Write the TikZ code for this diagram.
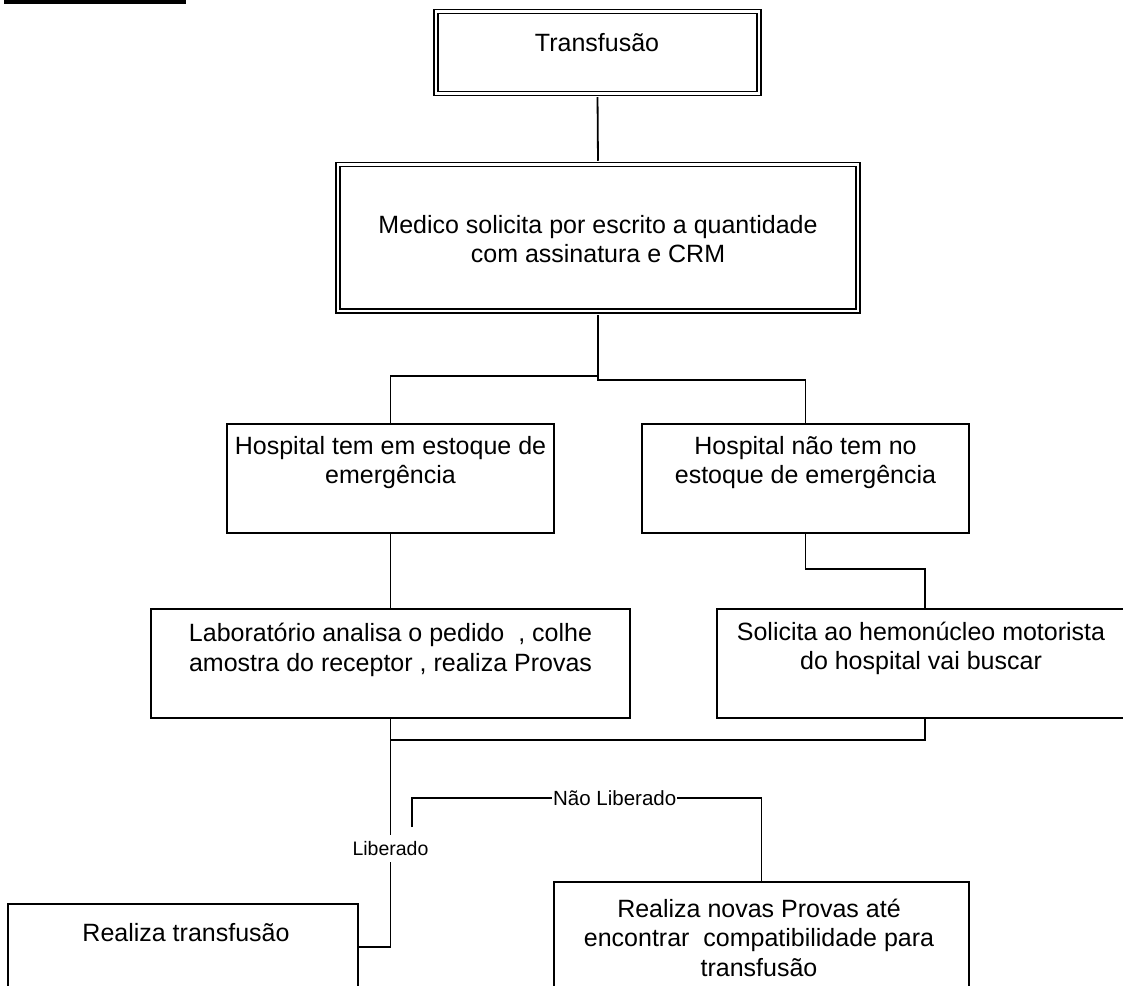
\documentclass[tikz,border=0pt]{standalone}
\usepackage{fontspec}
\setmainfont{Liberation Sans}
\begin{document}
\begin{tikzpicture}[x=1pt,y=-1pt,
  box/.style={draw,line width=1.8pt,fill=white,inner sep=0pt},
  dbox/.style={draw,line width=1.5pt,double,double distance=2.8pt,inner sep=0pt},
  txt/.style={align=center,font=\fontsize{25}{29.5}\selectfont,inner sep=0pt},
  conn/.style={line width=1.8pt},
  lbl/.style={fill=white,inner xsep=1pt,inner ysep=3pt,font=\fontsize{20.5}{24}\selectfont}]
\useasboundingbox (0,0) rectangle (1123,985);
\fill (4,0) rectangle (186,4);
% boxes
\node[dbox,minimum width=323pt,minimum height=82pt] (t1) at (597.5,52.4) {};
\node[dbox,minimum width=520pt,minimum height=146.5pt] (t2) at (598,237.75) {};
\node[box,minimum width=327pt,minimum height=109pt] (b1) at (390.5,478.5) {};
\node[box,minimum width=327pt,minimum height=109pt] (b2) at (805.5,478.5) {};
\node[box,minimum width=479pt,minimum height=109pt] (b3) at (390.5,663.5) {};
\node[box,minimum width=416pt,minimum height=109pt] (b4) at (925,663.5) {};
\node[box,minimum width=350pt,minimum height=86pt] (b5) at (183,947) {};
\node[box,minimum width=415pt,minimum height=109pt] (b6) at (761.5,936.5) {};
% texts
\node[txt] (t1x) at (597,43) {Transfusão};
\node[txt] (t2x) at (598,239) {Medico solicita por escrito a quantidade\\com assinatura e CRM};
\node[txt] (b1x) at (390.5,462.5) {Hospital tem em estoque de\\emergência};
\node[txt] (b2x) at (805.5,462.5) {Hospital não tem no\\estoque de emergência};
\node[txt] (b3x) at (390.5,650) {Laboratório analisa o pedido \ , colhe\\amostra do receptor , realiza Provas};
\node[txt] (b4x) at (921,648.5) {Solicita ao hemonúcleo motorista\\do hospital vai buscar};
\node[txt] (b5x) at (186,933) {Realiza transfusão};
\node[txt] (b6x) at (759,937.5) {Realiza novas Provas até\\encontrar \ compatibilidade para\\transfusão};
% connectors
\coordinate (s1) at (598,376);
\coordinate (s2) at (598,380);
\coordinate (s3) at (805.5,569);
\coordinate (j1) at (390.5,740);
\coordinate (nl) at (412,827);
\coordinate (nlc) at (412,798);
\draw[conn,shorten <=3pt,shorten >=3pt] (t1.south) -- (t2.north);
\draw[conn,shorten <=3pt] (t2.south) -- (s1) -| (b1.north);
\draw[conn] (s1) -- (s2) -| (b2.north);
\draw[conn] (b1.south) -- (b3.north);
\draw[conn] (b2.south) -- (s3) -| (b4.north);
\draw[conn] (b4.south) |- (j1);
\draw[conn] (b3.south) |- node[lbl,font=\fontsize{19.5}{23}\selectfont,inner ysep=6pt,pos=0.284] (lib) {Liberado} (b5.east);
\draw[conn] (nl) -- (nlc) -| node[lbl,pos=0.29] (nlab) {Não Liberado} (b6.north);
\end{tikzpicture}
\end{document}
